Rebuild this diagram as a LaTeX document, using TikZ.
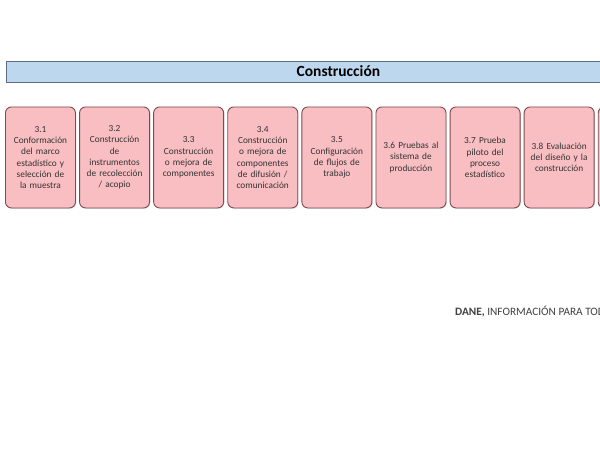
\documentclass[tikz,border=0pt]{standalone}
\usepackage{fontspec}
\setmainfont{Carlito}
\usetikzlibrary{positioning}
\usetikzlibrary{shadows}
\definecolor{rosa}{HTML}{F9BEC2}
\definecolor{borde}{HTML}{7D4A50}
\definecolor{celeste}{HTML}{BDD7EE}
\definecolor{bordeazul}{HTML}{5E6E80}
\tikzset{
  etapa/.style = {draw = borde, fill = rosa, rounded corners = 6pt, line width = 0.9pt,
    text width = 66pt, minimum height = 101pt, inner sep = 2pt, align = center,
    font = \fontsize{9.3}{11.2}\selectfont, text = black!80,
    drop shadow = {opacity = 0.25, shadow xshift = 0.8pt, shadow yshift = -0.8pt}},
  banda/.style = {draw = bordeazul, fill = celeste, line width = 0.8pt,
    minimum width = 664pt, minimum height = 21pt, inner sep = 0pt,
    font = \fontsize{15.5}{17}\selectfont\bfseries}
}

\begin{document}
\begin{tikzpicture}[x = 1pt, y = -1pt]
                        \useasboundingbox[fill = white] (0,0) rectangle (600,455);
                        \node[banda, anchor = west] (banda) at (6,71.5) {Construcción};
                        \foreach \texto [count = \i] in {
                            {3.1\\Conformación\\del marco\\estadístico y\\selección de\\la muestra},
                            {3.2\\Construcción\\de\\instrumentos\\de recolección\\/ acopio},
                            {3.3\\Construcción\\o mejora de\\componentes},
                            {3.4\\Construcción\\o mejora de\\componentes\\de difusión /\\comunicación},
                            {3.5\\Configuración\\de flujos de\\trabajo},
                            {3.6 Pruebas al\\sistema de\\producción},
                            {3.7 Prueba\\piloto del\\proceso\\estadístico},
                            {3.8 Evaluación\\del diseño y la\\construcción},
                            {}}{
                            \node[etapa, anchor = north west] (c\i) at ({5 + 74.1*(\i-1)},106.5) {\texto};
                          }
                        \node[anchor = base west, inner sep = 0pt, font = \fontsize{11.3}{13}\selectfont, text = black!75] (pie)
                          at (455,315) {\textbf{DANE,} INFORMACIÓN PARA TODOS};
                      \end{tikzpicture}
\end{document}
